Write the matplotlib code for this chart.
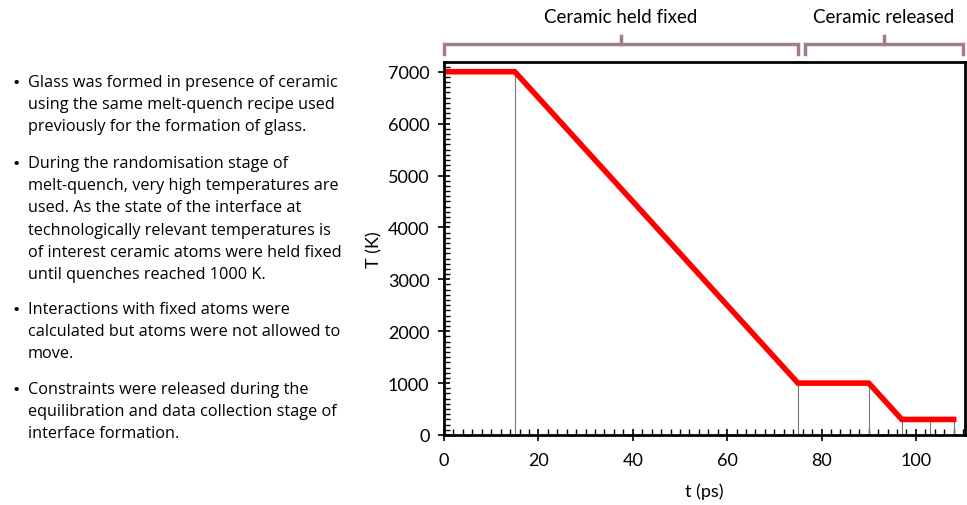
import matplotlib
matplotlib.use("Agg")
import matplotlib.pyplot as plt
from matplotlib.ticker import MultipleLocator

# temperature schedule of the melt-quench
t_ps = [0, 15, 75, 90, 97, 108]
temp_K = [7000, 7000, 1000, 1000, 300, 300]
# thin guide lines at stage changes
guide_t = [15, 75, 90, 97, 103, 108]
guide_T = [7000, 1000, 1000, 300, 300, 300]

stages = ["Ceramic held fixed", "Ceramic released"]
stage_spans = [(0, 75), (76.5, 110)]

bullets = [
    "Glass was formed in presence of ceramic\nusing the same melt-quench recipe used\npreviously for the formation of glass.",
    "During the randomisation stage of\nmelt-quench, very high temperatures are\nused. As the state of the interface at\ntechnologically relevant temperatures is\nof interest ceramic atoms were held fixed\nuntil quenches reached 1000 K.",
    "Interactions with fixed atoms were\ncalculated but atoms were not allowed to\nmove.",
    "Constraints were released during the\nequilibration and data collection stage of\ninterface formation.",
]
bullet_y = [82, 163, 309, 389]

plt.rcParams['font.family'] = ['Lato', 'DejaVu Sans']
fig = plt.figure(figsize=(9.67, 5.06), dpi=100)
ax = fig.add_axes([444/967, 70/506, 521/967, 373/506])

for x, y in zip(guide_t, guide_T):
    ax.plot([x, x], [0, y], color='#777777', lw=0.8)
ax.plot(t_ps, temp_K, color='#ff0000', lw=4, solid_joinstyle='miter')

ax.set_xlim(0, 110.4)
ax.set_ylim(0, 7187)
ax.xaxis.set_major_locator(MultipleLocator(20))
ax.xaxis.set_minor_locator(MultipleLocator(2))
ax.yaxis.set_major_locator(MultipleLocator(1000))
ax.yaxis.set_minor_locator(MultipleLocator(100))
ax.tick_params(which='major', direction='inout', length=9, width=1.2, labelsize=13, pad=6)
ax.tick_params(which='minor', direction='in', length=4, width=1)
ax.tick_params(axis='x', which='major', pad=8)
for s in ax.spines.values():
    s.set_linewidth(2)
ax.set_xlabel('t (ps)', fontsize=13, labelpad=10)
ax.set_ylabel('T (K)', fontsize=13, labelpad=4)

# stage brackets above the plot
bc = '#a07d8c'
for (x0, x1), name in zip(stage_spans, stages):
    ax.plot([x0, x0, x1, x1], [7341, 7534, 7534, 7341], color=bc, lw=2.5, clip_on=False,
            solid_joinstyle='miter')
    xm = (x0 + x1) / 2
    ax.plot([xm, xm], [7534, 7680], color=bc, lw=2.5, clip_on=False)
    ax.text(xm, 8060, name, ha='center', va='center', fontsize=13.5)

for txt, y in zip(bullets, bullet_y):
    fig.text(12/967, 1 - (y + 2)/506, '\u2022', fontsize=14, va='center', family=['Open Sans', 'DejaVu Sans'])
    fig.text(28/967, 1 - (y - 7)/506, txt, fontsize=11.7, va='top', linespacing=1.52,
             family=['Open Sans', 'DejaVu Sans'])

fig.savefig('out.png', dpi=100)
